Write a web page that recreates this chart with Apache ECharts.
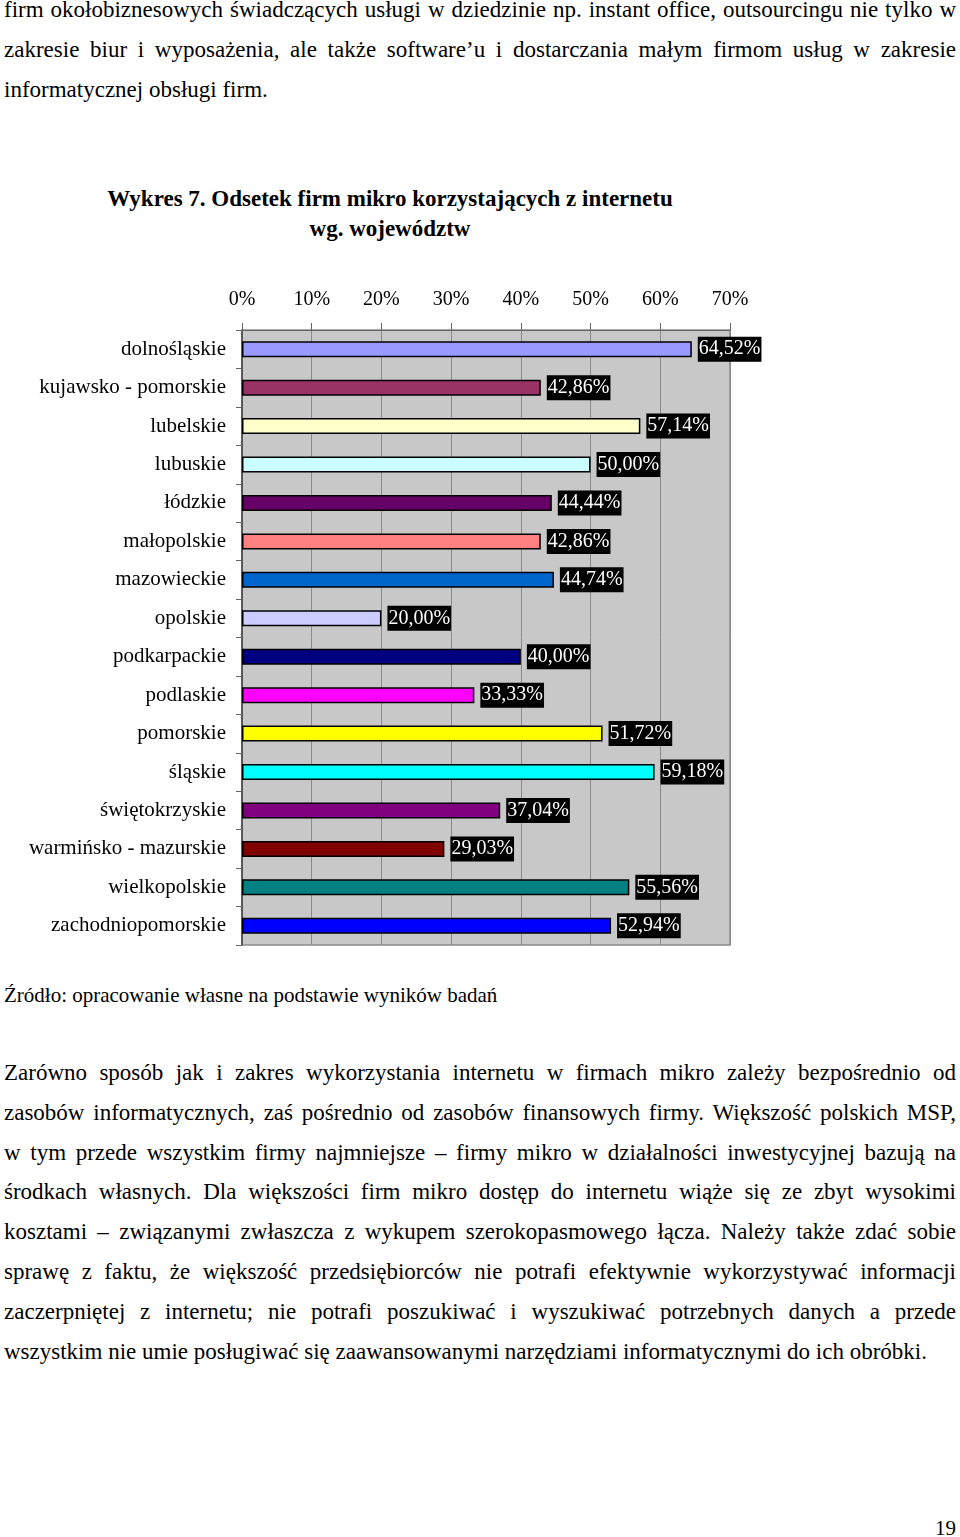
<!DOCTYPE html>
<html>
<head>
<meta charset="utf-8">
<script src="https://cdn.jsdelivr.net/npm/echarts@6/dist/echarts.min.js"></script>
<style>
html,body{margin:0;padding:0;background:#fff;}
body{width:960px;height:1537px;position:relative;overflow:hidden;font-family:"Liberation Serif","Times New Roman",serif;color:#000;}
.t{position:absolute;font-family:"Liberation Serif","Times New Roman",serif;}
.p{left:4px;width:952px;font-size:23px;line-height:39.8px;}
.p div{white-space:nowrap;text-align:justify;text-align-last:justify;height:39.8px;}
.p div.last{text-align-last:left;}
#chart{position:absolute;left:0;top:260px;width:960px;height:720px;}
</style>
</head>
<body>
<div class="t p" style="top:-10px;">
<div>firm okołobiznesowych świadczących usługi w dziedzinie np. instant office, outsourcingu nie tylko w</div>
<div>zakresie biur i wyposażenia, ale także software’u i dostarczania małym firmom usług w zakresie</div>
<div class="last">informatycznej obsługi firm.</div>
</div>
<div class="t" style="left:0;width:780px;top:184px;text-align:center;font-weight:bold;font-size:23px;line-height:30px;">Wykres 7. Odsetek firm mikro korzystających z internetu<br>wg. województw</div>
<div id="chart"></div>
<div class="t" style="left:4px;top:982px;font-size:21px;line-height:26px;">Źródło: opracowanie własne na podstawie wyników badań</div>
<div class="t p" style="top:1053px;">
<div>Zarówno sposób jak i zakres wykorzystania internetu w firmach mikro zależy bezpośrednio od</div>
<div>zasobów informatycznych, zaś pośrednio od zasobów finansowych firmy. Większość polskich MSP,</div>
<div>w tym przede wszystkim firmy najmniejsze – firmy mikro w działalności inwestycyjnej bazują na</div>
<div>środkach własnych. Dla większości firm mikro dostęp do internetu wiąże się ze zbyt wysokimi</div>
<div>kosztami – związanymi zwłaszcza z wykupem szerokopasmowego łącza. Należy także zdać sobie</div>
<div>sprawę z faktu, że większość przedsiębiorców nie potrafi efektywnie wykorzystywać informacji</div>
<div>zaczerpniętej z internetu; nie potrafi poszukiwać i wyszukiwać potrzebnych danych a przede</div>
<div class="last">wszystkim nie umie posługiwać się zaawansowanymi narzędziami informatycznymi do ich obróbki.</div>
</div>
<div class="t" style="left:935px;top:1516px;font-size:21px;line-height:24px;">19</div>
<script>
const categories = ["dolnośląskie","kujawsko - pomorskie","lubelskie","lubuskie","łódzkie","małopolskie","mazowieckie","opolskie","podkarpackie","podlaskie","pomorskie","śląskie","świętokrzyskie","warmińsko - mazurskie","wielkopolskie","zachodniopomorskie"];
const values = [64.52,42.86,57.14,50.00,44.44,42.86,44.74,20.00,40.00,33.33,51.72,59.18,37.04,29.03,55.56,52.94];
const colors = ["#9999FF","#993366","#FFFFCC","#CCFFFF","#660066","#FF8080","#0066CC","#CCCCFF","#000080","#FF00FF","#FFFF00","#00FFFF","#800080","#800000","#008080","#0000FF"];
const axisTicks = [0,10,20,30,40,50,60,70];

const chart = echarts.init(document.getElementById('chart'));
const font = '"Liberation Serif","Times New Roman",serif';
chart.setOption({
  animation:false,
  grid:{left:242,width:488,top:70,height:615,show:true,backgroundColor:'#c8c8c8',borderColor:'#8a8a8a',borderWidth:1.5},
  xAxis:{type:'value',position:'top',min:axisTicks[0],max:axisTicks[axisTicks.length-1],interval:10,
    axisLabel:{formatter:'{value}%',fontFamily:font,fontSize:20,color:'#000',margin:20},
    axisLine:{show:true,lineStyle:{color:'#666',width:1}},
    axisTick:{show:true,length:7,lineStyle:{color:'#666'}},
    splitLine:{show:true,lineStyle:{color:'#8a8a8a',width:1}}},
  yAxis:{type:'category',data:categories,inverse:true,
    axisLabel:{fontFamily:font,fontSize:21,color:'#000',margin:16},
    axisLine:{show:true,lineStyle:{color:'#444',width:1.5}},
    axisTick:{show:true,length:6,lineStyle:{color:'#666'}}},
  series:[{type:'bar',barWidth:16,
    data:values.map((v,i)=>({value:v,itemStyle:{color:colors[i]}})),
    itemStyle:{borderColor:'#000',borderWidth:1.5},
    label:{show:true,position:'right',distance:6,backgroundColor:'#000',color:'#fff',fontFamily:font,fontSize:20,padding:[3,1,2,1],
      formatter:p=>p.value.toFixed(2).replace('.',',')+'%'}}]
});
</script>
</body>
</html>
